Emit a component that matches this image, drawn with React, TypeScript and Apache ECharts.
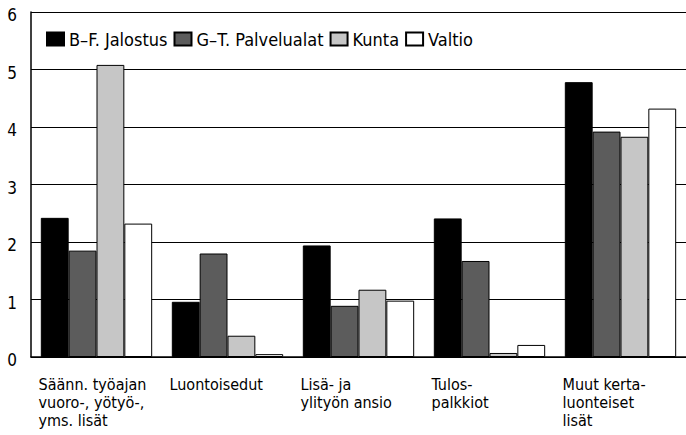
import React, { useEffect, useRef } from "react";
import * as echarts from "echarts";

const categories = [
  ["Säänn. työajan", "vuoro-, yötyö-,", "yms. lisät"],
  ["Luontoisedut"],
  ["Lisä- ja", "ylityön ansio"],
  ["Tulos-", "palkkiot"],
  ["Muut kerta-", "luonteiset", "lisät"],
];
const seriesNames = ["B–F. Jalostus", "G–T. Palvelualat", "Kunta", "Valtio"];
const jalostus = [2.42, 0.96, 1.94, 2.41, 4.78];
const palvelualat = [1.85, 1.8, 0.89, 1.67, 3.92];
const kunta = [5.08, 0.37, 1.17, 0.07, 3.83];
const valtio = [2.32, 0.05, 0.98, 0.21, 4.32];
const yTicks = [0, 1, 2, 3, 4, 5, 6];

const FONT = "'Liberation Sans Narrow', 'DejaVu Sans Condensed', 'Open Sans', sans-serif";
const colors = ["#000000", "#5c5c5c", "#c6c6c6", "#ffffff"];

export default function App() {
  const ref = useRef<HTMLDivElement>(null);
  useEffect(() => {
    if (!ref.current) return;
    const chart = echarts.init(ref.current, undefined, { renderer: "svg" });
    const values = [jalostus, palvelualat, kunta, valtio];
    chart.setOption({
      animation: false,
      backgroundColor: "#ffffff",
      textStyle: { fontFamily: FONT },
      legend: {
        left: 41,
        top: 25,
        icon: "rect",
        itemWidth: 17,
        itemHeight: 13,
        itemGap: 6,
        textStyle: { fontFamily: FONT, fontSize: 18, color: "#000" },
        data: seriesNames,
      },
      grid: { left: 31, top: 12, width: 664, height: 345 },
      xAxis: {
        type: "category",
        data: categories.map((c) => c.join("\n")),
        axisLine: { show: true, lineStyle: { color: "#000", width: 1.5 } },
        axisTick: { show: false },
        axisLabel: {
          interval: 0,
          margin: 18,
          align: "center",
          color: "#000",
          fontFamily: FONT,
          fontSize: 16,
          lineHeight: 18,
          formatter: (v: string) =>
            v
              .split("\n")
              .map((l) => `{a|${l}}`)
              .join("\n"),
          rich: {
            a: { width: 116, align: "left", fontFamily: FONT, fontSize: 16, lineHeight: 18, color: "#000" },
          },
        },
      },
      yAxis: {
        type: "value",
        min: yTicks[0],
        max: yTicks[yTicks.length - 1],
        interval: 1,
        axisLine: { show: true, lineStyle: { color: "#000", width: 1.5 } },
        axisTick: { show: false },
        axisLabel: {
          color: "#000",
          fontFamily: FONT,
          fontSize: 17,
          margin: 19,
          align: "center",
          verticalAlign: "top",
          verticalAlignMaxLabel: "top",
          verticalAlignMinLabel: "top",
          lineHeight: 6,
        },
        splitLine: { show: true, lineStyle: { color: "#000", width: 1 } },
      },
      series: seriesNames.map((name, i) => ({
        name,
        type: "bar",
        data: values[i],
        barGap: "0%",
        barCategoryGap: "15%",
        itemStyle: { color: colors[i], borderColor: "#000", borderWidth: 1 },
      })),
    });
    return () => chart.dispose();
  }, []);
  return (
    <div
      ref={ref}
      style={{ position: "fixed", left: 0, top: 0, width: 686, height: 435, background: "#fff" }}
    />
  );
}
